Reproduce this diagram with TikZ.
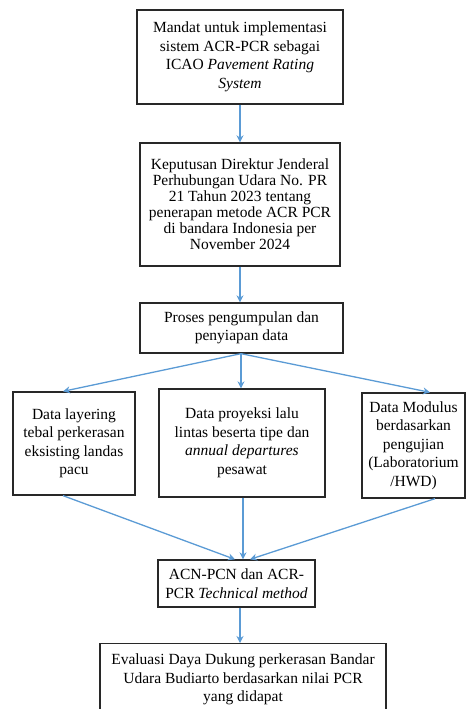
\documentclass[tikz,border=0pt]{standalone}
\usepackage{fontspec}
\setmainfont{Liberation Serif}
\usetikzlibrary{arrows.meta}
\definecolor{arrowblue}{RGB}{91,155,213}
\definecolor{boxline}{RGB}{40,40,40}
\begin{document}
\begin{tikzpicture}[x=1pt,y=-1pt,
  box/.style={draw=boxline, line width=1.3pt, align=center, inner sep=0pt,
    font=\fontsize{15.5}{18.5}\selectfont},
  flow/.style={draw=arrowblue, line width=1.3pt, -{Stealth[length=7pt,width=7pt]}}]
\useasboundingbox (0,0) rectangle (466,709);
\clip (0,0) rectangle (466,709);

% main column
\node[box, minimum width=206, minimum height=94] (b1) at (240,57)
  {Mandat untuk implementasi\\sistem ACR-PCR sebagai\\ICAO \textit{Pavement Rating}\\\textit{System}};
\node[box, minimum width=200, minimum height=123, font=\fontsize{15.5}{16}\selectfont] (b2) at (240,204.5)
  {Keputusan Direktur Jenderal\\Perhubungan Udara No. PR\\21 Tahun 2023 tentang\\penerapan metode ACR PCR\\di bandara Indonesia per\\November 2024};
\node[box, minimum width=203, minimum height=50] (b3) at (241.5,328)
  {Proses pengumpulan dan\\penyiapan data};

% data sources
\node[box, minimum width=122, minimum height=103] (bl) at (74,443.5)
  {Data layering\\tebal perkerasan\\eksisting landas\\pacu};
\node[box, minimum width=166, minimum height=108] (bm) at (242,443)
  {Data proyeksi lalu\\lintas beserta tipe dan\\\textit{annual departures}\\pesawat};
\node[box, minimum width=103, minimum height=105] (br) at (413.5,445.5)
  {Data Modulus\\berdasarkan\\pengujian\\(Laboratorium\\/HWD)};

% method and result
\node[box, minimum width=157, minimum height=47] (b4) at (236.5,583.5)
  {ACN-PCN dan ACR-\\PCR \textit{Technical method}};
\node[box, minimum width=286, minimum height=72, anchor=north] (b5) at (243,643)
  {Evaluasi Daya Dukung perkerasan Bandar\\Udara Budiarto berdasarkan nilai PCR\\yang didapat};

% connectors
\coordinate (fork) at (b3.south -| 241,0);
\draw[flow] (b1.south) -- (b2.north);
\draw[flow] (b2.south -| 240,0) -- (b3.north -| 240,0);
\draw[flow] (fork) -- (bl.north -| 63,0);
\draw[flow] (fork) -- (bm.north -| fork);
\draw[flow] (fork) -- (br.north -| 430,0);
\draw[flow] (bl.south -| 63,0) -- (b4.north -| 235,0);
\draw[flow] (bm.south -| 243,0) -- (b4.north -| 243,0);
\draw[flow] (br.south -| 435,0) -- (b4.north -| 250,0);
\draw[flow] (b4.south -| 240,0) -- (b5.north -| 240,0);
\end{tikzpicture}
\end{document}
